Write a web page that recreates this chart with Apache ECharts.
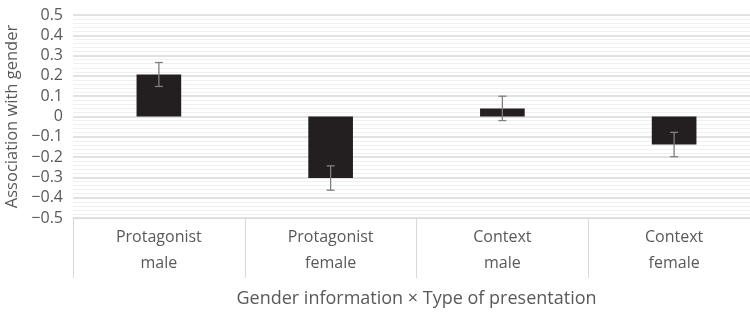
<!DOCTYPE html>
<html>
<head>
<meta charset="utf-8">
<script src="https://cdn.jsdelivr.net/npm/echarts@6/dist/echarts.min.js"></script>
<style>html,body{margin:0;padding:0;background:#fff}#c{width:750px;height:314px}</style>
</head>
<body>
<div id="c"></div>
<script>
var categories = ['Protagonist\nmale', 'Protagonist\nfemale', 'Context\nmale', 'Context\nfemale'];
var values = [0.207, -0.303, 0.040, -0.138];
var errors = [0.059, 0.060, 0.060, 0.060];
var yTicks = { min: -0.5, max: 0.5, interval: 0.1 };
var yAxisName = 'Association with gender';
var xAxisName = 'Gender information \u00d7 Type of presentation';

var FONT = 'Open Sans';
var chart = echarts.init(document.getElementById('c'), null, { renderer: 'canvas' });
var errData = values.map(function (v, i) { return [i, v - errors[i], v + errors[i]]; });

chart.setOption({
  animation: false,
  grid: { left: 73, right: -10, top: 15, bottom: 96, containLabel: false, outerBoundsMode: 'none' },
  xAxis: {
    type: 'category',
    data: categories,
    name: xAxisName,
    nameLocation: 'middle',
    nameGap: 72,
    nameTextStyle: { fontFamily: FONT, fontSize: 18, color: '#595959' },
    axisLine: { show: true, onZero: false, lineStyle: { color: '#d9d9d9', width: 1 } },
    axisTick: { show: true, length: 60, lineStyle: { color: '#d9d9d9', width: 1 } },
    axisLabel: { fontFamily: FONT, fontSize: 16, color: '#595959', lineHeight: 26, margin: 6 },
    splitLine: { show: false }
  },
  yAxis: {
    type: 'value',
    min: yTicks.min,
    max: yTicks.max,
    interval: yTicks.interval,
    name: yAxisName,
    nameLocation: 'middle',
    nameRotate: 90,
    nameGap: 48,
    nameTextStyle: { fontFamily: FONT, fontSize: 16.5, color: '#595959' },
    axisLine: { show: false },
    axisTick: { show: false },
    axisLabel: {
      fontFamily: FONT, fontSize: 16, color: '#595959', margin: 10,
      formatter: function (v) {
        var r = Math.round(v * 10) / 10;
        if (r === 0) return '0';
        var s = Math.abs(r).toFixed(1);
        return r < 0 ? '\u2212' + s : s;
      }
    },
    splitLine: { show: true, lineStyle: { color: '#d9d9d9', width: 1.5 } },
    minorTick: { show: false, splitNumber: 5 },
    minorSplitLine: { show: true, lineStyle: { color: '#f0f0f0', width: 1 } }
  },
  series: [
    {
      type: 'bar',
      data: values,
      barWidth: '26%',
      itemStyle: { color: '#231f20' },
      z: 2
    },
    {
      type: 'custom',
      data: errData,
      z: 3,
      renderItem: function (params, api) {
        var x = api.value(0);
        var lo = api.coord([x, api.value(1)]);
        var hi = api.coord([x, api.value(2)]);
        var hw = 4;
        var st = { stroke: '#7f7f7f', lineWidth: 1.3 };
        return {
          type: 'group',
          children: [
            { type: 'line', shape: { x1: lo[0], y1: lo[1], x2: hi[0], y2: hi[1] }, style: st },
            { type: 'line', shape: { x1: lo[0] - hw, y1: lo[1], x2: lo[0] + hw, y2: lo[1] }, style: st },
            { type: 'line', shape: { x1: hi[0] - hw, y1: hi[1], x2: hi[0] + hw, y2: hi[1] }, style: st }
          ]
        };
      }
    }
  ]
});
</script>
</body>
</html>
